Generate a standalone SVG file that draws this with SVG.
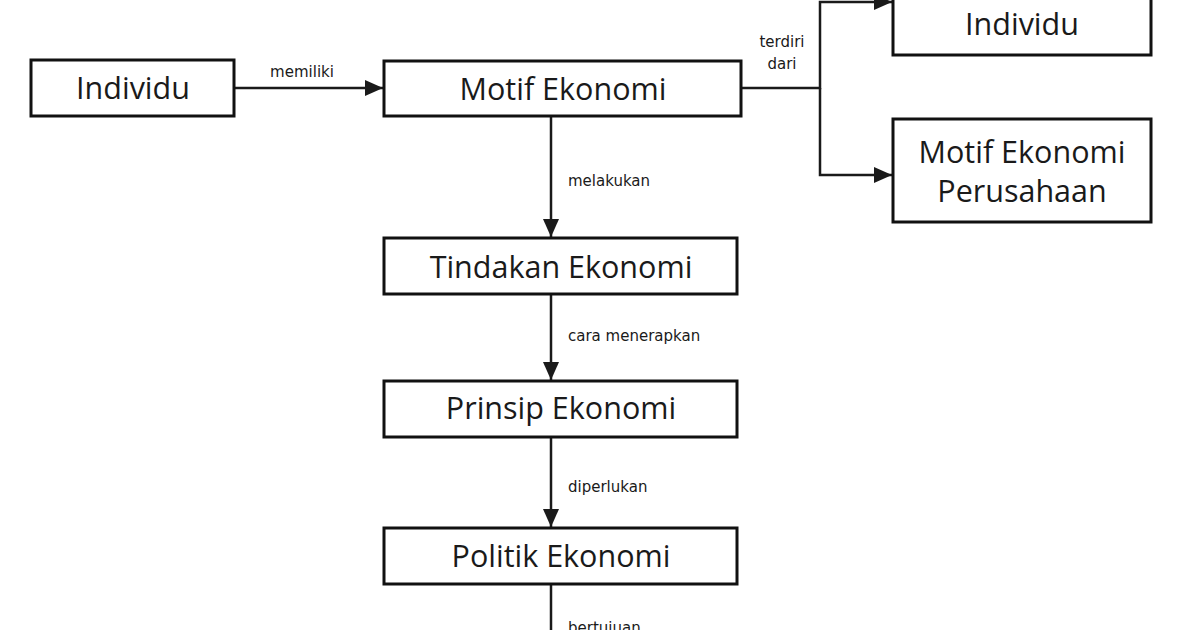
<svg xmlns="http://www.w3.org/2000/svg" width="1200" height="630" viewBox="0 0 1200 630">
<style>
.box{fill:#fff;stroke:#111;stroke-width:3}
.t{font-family:"Open Sans","Liberation Sans",sans-serif;font-size:30.5px;fill:#1a1a1a;text-anchor:middle;font-weight:400}
.l{font-family:"DejaVu Sans","Noto Sans",sans-serif;font-size:15px;fill:#1a1a1a}
.c{fill:none;stroke:#1a1a1a;stroke-width:2.5}
</style>
<defs>
<marker id="ah" markerUnits="userSpaceOnUse" markerWidth="20" markerHeight="16" refX="18" refY="8" orient="auto">
<path d="M0,0 L18,8 L0,16 Z" fill="#1a1a1a"/>
</marker>
</defs>
<rect width="1200" height="630" fill="#fff"/>
<g id="connectors">
<path class="c" d="M234,88 H383" marker-end="url(#ah)"/>
<path class="c" d="M741,88 H820 V2 H892" marker-end="url(#ah)"/>
<path class="c" d="M820,88 V175 H892" marker-end="url(#ah)"/>
<path class="c" d="M551,116 V237" marker-end="url(#ah)"/>
<path class="c" d="M551,294 V380" marker-end="url(#ah)"/>
<path class="c" d="M551,437 V527" marker-end="url(#ah)"/>
<path class="c" d="M551,584 V632"/>
<text class="l" x="302" y="77" text-anchor="middle">memiliki</text>
<text class="l" x="782" y="47" text-anchor="middle">terdiri</text>
<text class="l" x="782" y="69" text-anchor="middle">dari</text>
<text class="l" x="568" y="186">melakukan</text>
<text class="l" x="568" y="341">cara menerapkan</text>
<text class="l" x="568" y="492">diperlukan</text>
<text class="l" x="568" y="633">bertujuan</text>
</g>
<g id="individu">
<rect class="box" x="31" y="60" width="203" height="56"/>
<text class="t" x="133" y="99">Individu</text>
</g>
<g id="motif">
<rect class="box" x="384" y="61" width="357" height="55"/>
<text class="t" x="563" y="100">Motif Ekonomi</text>
</g>
<g id="individu2">
<rect class="box" x="893" y="-10" width="258" height="65"/>
<text class="t" x="1022" y="35">Individu</text>
</g>
<g id="perusahaan">
<rect class="box" x="893" y="119" width="258" height="103"/>
<text class="t" x="1022" y="163">Motif Ekonomi</text>
<text class="t" x="1022" y="202">Perusahaan</text>
</g>
<g id="tindakan">
<rect class="box" x="384" y="238" width="353" height="56"/>
<text class="t" x="561" y="278">Tindakan Ekonomi</text>
</g>
<g id="prinsip">
<rect class="box" x="384" y="381" width="353" height="56"/>
<text class="t" x="561" y="419">Prinsip Ekonomi</text>
</g>
<g id="politik">
<rect class="box" x="384" y="528" width="353" height="56"/>
<text class="t" x="561" y="567">Politik Ekonomi</text>
</g>
</svg>
